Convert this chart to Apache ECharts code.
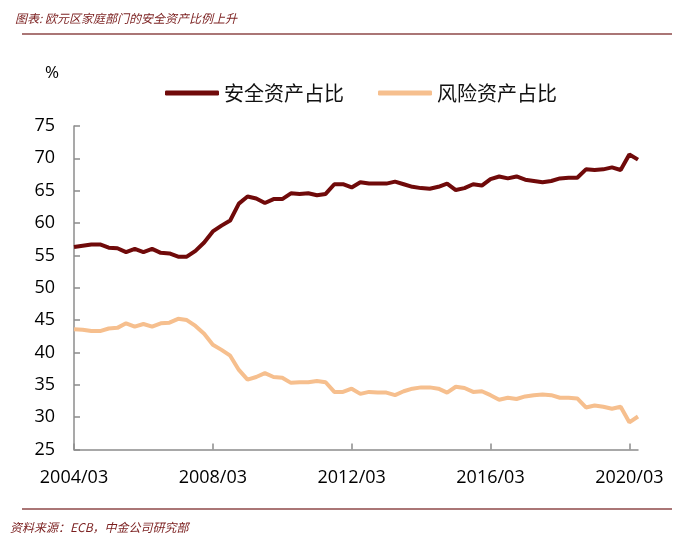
<!DOCTYPE html>
<html>
<head>
<meta charset="utf-8">
<script src="https://cdn.jsdelivr.net/npm/echarts@6/dist/echarts.min.js"></script>
<style>html,body{margin:0;padding:0;background:#fff;}#c{width:684px;height:540px;}</style>
</head>
<body>
<div id="c"></div>
<script>
// Quarterly categories 2004/03 .. 2020/06
const categories = [];
for (let y = 2004; y <= 2020; y++) {
  for (const m of ['03', '06', '09', '12']) {
    if (y === 2020 && (m === '09' || m === '12')) continue;
    categories.push(y + '/' + m);
  }
}
const seriesNames = ['安全资产占比', '风险资产占比'];
const safeShare = [56.3,56.5,56.7,56.7,56.2,56.1,55.5,56.0,55.5,56.0,55.4,55.3,54.8,54.8,55.7,57.0,
  58.7,59.6,60.4,63.0,64.1,63.8,63.1,63.7,63.7,64.6,64.5,64.6,64.3,64.5,66.0,66.0,
  65.5,66.3,66.1,66.1,66.1,66.4,66.0,65.6,65.4,65.3,65.6,66.1,65.1,65.4,66.0,65.8,
  66.8,67.2,66.9,67.2,66.7,66.5,66.3,66.5,66.9,67.0,67.0,68.3,68.2,68.3,68.6,68.2,
  70.6,69.8];
const riskShare = [43.6,43.5,43.3,43.3,43.7,43.8,44.5,44.0,44.4,44.0,44.5,44.6,45.2,45.0,44.1,42.9,
  41.2,40.4,39.5,37.3,35.8,36.2,36.8,36.2,36.1,35.3,35.4,35.4,35.6,35.4,33.9,33.9,
  34.4,33.6,33.9,33.8,33.8,33.4,34.0,34.4,34.6,34.6,34.4,33.8,34.7,34.5,33.9,34.0,
  33.4,32.7,33.0,32.8,33.2,33.4,33.5,33.4,33.0,33.0,32.9,31.5,31.8,31.6,31.3,31.6,
  29.2,30.1];
const yTicks = {min: 25, max: 75, interval: 5};

const chart = echarts.init(document.getElementById('c'));
const font = '"Open Sans", "Noto Sans", sans-serif';
chart.setOption({
  animation: false,
  backgroundColor: '#fff',
  title: {
    text: '图表: 欧元区家庭部门的安全资产比例上升',
    left: 10, top: 7,
    textStyle: {fontSize: 12, fontStyle: 'italic', fontWeight: 'normal', color: '#7a1e1e', fontFamily: '"Noto Sans CJK SC", sans-serif'}
  },
  graphic: [
    {type: 'line', shape: {x1: 22, y1: 34, x2: 672, y2: 34}, style: {stroke: '#8e4848', lineWidth: 1.5}},
    {type: 'line', shape: {x1: 22, y1: 509, x2: 672, y2: 509}, style: {stroke: '#8e4848', lineWidth: 1.5}},
    {type: 'text', left: 10, top: 521, style: {text: '资料来源：ECB，中金公司研究部', fontSize: 12, fontStyle: 'italic', fill: '#7a1e1e', fontFamily: '"Noto Sans CJK SC", sans-serif'}},
    {type: 'text', left: 45, top: 65, style: {text: '%', fontSize: 17, fill: '#000', fontFamily: font}}
  ],
  legend: {
    left: 160, top: 78,
    itemWidth: 54, itemHeight: 5, itemGap: 34,
    icon: 'roundRect',
    textStyle: {fontSize: 20, color: '#111', fontFamily: '"Noto Sans CJK SC", sans-serif'},
    data: seriesNames
  },
  grid: {left: 74, right: 46, top: 126, bottom: 90.5, containLabel: false},
  xAxis: {
    type: 'category',
    data: categories,
    boundaryGap: false,
    axisLine: {lineStyle: {color: '#8c8c8c', width: 1.5}},
    axisTick: {inside: true, length: 6, interval: 15, alignWithLabel: true, lineStyle: {color: '#8c8c8c', width: 1.5}},
    axisLabel: {interval: 15, margin: 19, fontSize: 18, color: '#000', fontFamily: font},
    splitLine: {show: false}
  },
  yAxis: {
    type: 'value',
    min: yTicks.min, max: yTicks.max, interval: yTicks.interval,
    axisLine: {show: true, lineStyle: {color: '#8c8c8c', width: 1.5}},
    axisTick: {show: true, inside: true, length: 6, lineStyle: {color: '#8c8c8c', width: 1.5}},
    axisLabel: {margin: 19, fontSize: 18, color: '#000', fontFamily: font},
    splitLine: {show: false}
  },
  series: [
    {name: seriesNames[0], type: 'line', data: safeShare, showSymbol: false, symbol: 'none',
     lineStyle: {color: '#700a0a', width: 4}, itemStyle: {color: '#700a0a'}},
    {name: seriesNames[1], type: 'line', data: riskShare, showSymbol: false, symbol: 'none',
     lineStyle: {color: '#f6bf8e', width: 4}, itemStyle: {color: '#f6bf8e'}}
  ]
});
</script>
</body>
</html>
